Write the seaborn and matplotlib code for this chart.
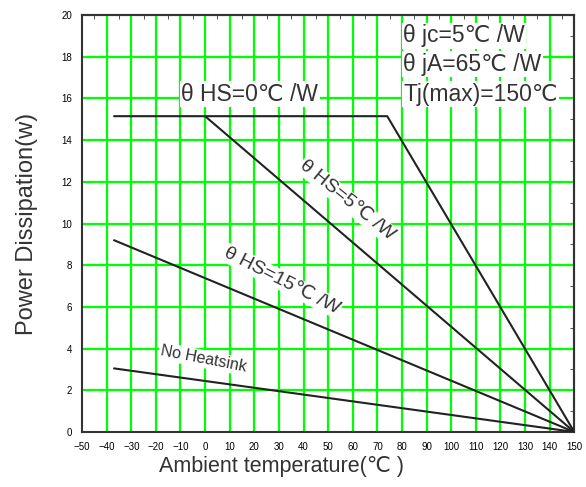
import numpy as np
import pandas as pd
import matplotlib
matplotlib.use("Agg")
import matplotlib.pyplot as plt
import seaborn as sns
from matplotlib.ticker import MultipleLocator

# -----------------------------
# data
# -----------------------------
hs0_x = [-37, 74, 150]
hs0_y = [15.15, 15.15, 0]
hs5_x = [0, 150]
hs5_y = [15.15, 0]
hs15_x = [-37, 150]
hs15_y = [9.2, 0]
nohs_x = [-37, 150]
nohs_y = [3.05, 0]

x_ticks = list(range(-50, 151, 10))
y_ticks = list(range(0, 21, 2))

df = pd.concat([
    pd.DataFrame({"t": hs0_x, "p": hs0_y, "curve": "HS0"}),
    pd.DataFrame({"t": hs5_x, "p": hs5_y, "curve": "HS5"}),
    pd.DataFrame({"t": hs15_x, "p": hs15_y, "curve": "HS15"}),
    pd.DataFrame({"t": nohs_x, "p": nohs_y, "curve": "none"}),
])

sns.set_style("white")
plt.rcParams['font.family'] = ['Liberation Sans', 'DejaVu Sans']

fig = plt.figure(figsize=(5.86, 4.87), dpi=100)
ax = fig.add_axes([0.14, 0.113, 0.84, 0.856])

# green grid
for xv in x_ticks[1:-1]:
    ax.axvline(xv, color="#00ff00", lw=1.6, zorder=1)
for yv in y_ticks[1:-1]:
    ax.axhline(yv, color="#00ff00", lw=1.6, zorder=1)

sns.lineplot(data=df, x="t", y="p", units="curve", estimator=None, sort=False,
             color="#222222", lw=1.5, ax=ax, zorder=3)

ax.set_xlim(-50, 150)
ax.set_ylim(0, 20)
ax.set_xticks(x_ticks)
ax.set_yticks(y_ticks)
ax.xaxis.set_minor_locator(MultipleLocator(5))
ax.yaxis.set_minor_locator(MultipleLocator(1))
ax.tick_params(which="both", direction="out", colors="#333333", labelsize=7, pad=2)
ax.tick_params(which="major", length=5, width=1.2)
ax.tick_params(which="minor", length=3, width=1.0)
ax.tick_params(labelcolor="black")

top = ax.secondary_xaxis("top")
top.set_xticks(x_ticks)
top.xaxis.set_minor_locator(MultipleLocator(5))
top.tick_params(which="both", direction="in", labeltop=False, colors="#333333")
top.tick_params(which="major", length=5, width=1.2)
top.tick_params(which="minor", length=3)
right = ax.secondary_yaxis("right")
right.set_yticks(y_ticks)
right.yaxis.set_minor_locator(MultipleLocator(1))
right.tick_params(which="both", direction="in", labelright=False, colors="#333333")
right.tick_params(which="major", length=5, width=1.2)
right.tick_params(which="minor", length=3)

for s in ax.spines.values():
    s.set_color("#333333")
    s.set_linewidth(1.5)
for s in list(top.spines.values()) + list(right.spines.values()):
    s.set_linewidth(1.5)
    s.set_color("#333333")

ax.set_xlabel("Ambient temperature(℃ )", fontsize=15.5, color="#333333")
ax.xaxis.set_label_coords(0.405, -0.082, transform=ax.transAxes)
ax.xaxis.label.set_va("center")
ax.set_ylabel("Power Dissipation(w)", fontsize=17, color="#333333", labelpad=17)

box = dict(facecolor="white", edgecolor="none", pad=1)
txt = dict(color="#333333", va="center", bbox=box, zorder=4)
ax.text(18.1, 16.2, "θ HS=0℃ /W", fontsize=16.5, ha="center", **txt)
ax.text(80.5, 19.0, "θ jc=5℃ /W", fontsize=16.5, ha="left", **txt)
ax.text(80.5, 17.65, "θ jA=65℃ /W", fontsize=16.5, ha="left", **txt)
ax.text(80.5, 16.2, "Tj(max)=150℃", fontsize=16.5, ha="left", **txt)
ax.text(57.7, 11.1, "θ HS=5℃ /W", fontsize=14, ha="center", rotation=-39, **txt)
ax.text(31.3, 7.25, "θ HS=15℃ /W", fontsize=14, ha="center", rotation=-27, **txt)
ax.text(-0.8, 3.5, "No Heatsink", fontsize=11.5, ha="center", rotation=-11, **txt)

fig.savefig("out.png", dpi=100)
